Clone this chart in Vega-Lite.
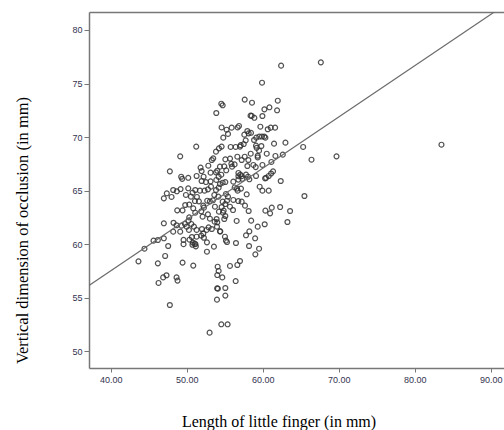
{
 "$schema": "https://vega.github.io/schema/vega-lite/v6.json",
 "width": 415,
 "height": 356,
 "autosize": {"type": "none"},
 "padding": {"left": 89, "top": 12, "right": 0, "bottom": 62},
 "background": "white",
 "config": {"view": {"stroke": null}},
 "layer": [
  {
   "data": {"values": [
    {"finger":62.42,"vdo":76.67},{"finger":67.65,"vdo":76.98},{"finger":59.91,"vdo":75.08},{"finger":57.63,"vdo":73.50},
    {"finger":58.59,"vdo":73.21},{"finger":61.98,"vdo":73.40},{"finger":54.55,"vdo":73.12},{"finger":54.73,"vdo":72.97},
    {"finger":53.89,"vdo":72.25},{"finger":60.88,"vdo":72.78},{"finger":60.22,"vdo":72.59},{"finger":61.89,"vdo":72.50},
    {"finger":58.40,"vdo":72.00},{"finger":58.55,"vdo":71.98},{"finger":58.90,"vdo":71.80},{"finger":59.96,"vdo":71.97},
    {"finger":83.52,"vdo":69.29},{"finger":69.71,"vdo":68.20},{"finger":66.42,"vdo":67.89},{"finger":65.32,"vdo":69.08},
    {"finger":65.49,"vdo":64.50},{"finger":62.99,"vdo":69.48},{"finger":62.64,"vdo":68.36},{"finger":62.37,"vdo":65.90},
    {"finger":62.29,"vdo":63.47},{"finger":63.60,"vdo":63.10},{"finger":63.25,"vdo":62.07},{"finger":51.25,"vdo":69.11},
    {"finger":49.14,"vdo":68.20},{"finger":47.78,"vdo":66.80},{"finger":53.01,"vdo":51.74},{"finger":54.55,"vdo":52.52},
    {"finger":55.38,"vdo":52.52},{"finger":47.78,"vdo":54.32},{"finger":43.65,"vdo":58.40},{"finger":44.44,"vdo":59.58},
    {"finger":45.63,"vdo":60.33},{"finger":46.20,"vdo":60.39},{"finger":46.99,"vdo":61.95},{"finger":46.99,"vdo":64.28},
    {"finger":47.38,"vdo":64.75},{"finger":48.00,"vdo":64.41},{"finger":48.22,"vdo":65.06},{"finger":48.70,"vdo":64.94},
    {"finger":49.19,"vdo":65.15},{"finger":49.27,"vdo":66.30},{"finger":49.40,"vdo":66.10},{"finger":50.20,"vdo":66.20},
    {"finger":48.75,"vdo":63.16},{"finger":48.26,"vdo":62.00},{"finger":49.45,"vdo":63.16},{"finger":49.89,"vdo":64.60},
    {"finger":48.22,"vdo":61.17},{"finger":47.56,"vdo":59.83},{"finger":47.16,"vdo":58.90},{"finger":46.99,"vdo":60.55},
    {"finger":46.20,"vdo":58.21},{"finger":46.29,"vdo":56.38},{"finger":46.90,"vdo":56.90},{"finger":47.34,"vdo":57.10},
    {"finger":48.66,"vdo":56.90},{"finger":48.79,"vdo":56.60},{"finger":49.45,"vdo":58.28},{"finger":50.86,"vdo":58.00},
    {"finger":49.58,"vdo":60.40},{"finger":49.58,"vdo":60.00},{"finger":49.76,"vdo":61.89},{"finger":52.66,"vdo":60.17},
    {"finger":52.66,"vdo":59.30},{"finger":53.58,"vdo":59.77},{"finger":54.07,"vdo":57.90},{"finger":54.20,"vdo":57.50},
    {"finger":54.02,"vdo":57.12},{"finger":54.68,"vdo":56.90},{"finger":54.00,"vdo":55.88},{"finger":54.10,"vdo":55.85},
    {"finger":55.08,"vdo":55.91},{"finger":53.98,"vdo":54.82},{"finger":55.08,"vdo":55.20},{"finger":55.69,"vdo":57.97},
    {"finger":56.44,"vdo":56.56},{"finger":56.66,"vdo":58.06},{"finger":57.01,"vdo":58.43},{"finger":56.48,"vdo":60.11},
    {"finger":55.16,"vdo":60.33},{"finger":55.30,"vdo":60.20},{"finger":55.03,"vdo":60.70},{"finger":54.37,"vdo":61.20},
    {"finger":56.57,"vdo":62.17},{"finger":58.20,"vdo":59.83},{"finger":58.24,"vdo":61.20},{"finger":57.80,"vdo":60.83},
    {"finger":58.48,"vdo":62.20},{"finger":59.00,"vdo":60.55},{"finger":59.03,"vdo":59.05},{"finger":59.52,"vdo":59.58},
    {"finger":59.34,"vdo":61.64},{"finger":60.26,"vdo":61.86},{"finger":60.35,"vdo":63.13},{"finger":60.97,"vdo":62.88},
    {"finger":61.19,"vdo":63.41},{"finger":58.15,"vdo":63.10},{"finger":57.67,"vdo":63.60},{"finger":56.79,"vdo":64.03},
    {"finger":57.23,"vdo":63.97},{"finger":57.89,"vdo":64.66},{"finger":57.14,"vdo":65.19},{"finger":56.62,"vdo":65.19},
    {"finger":59.60,"vdo":65.37},{"finger":59.96,"vdo":65.00},{"finger":60.79,"vdo":65.00},{"finger":60.31,"vdo":66.15},
    {"finger":60.44,"vdo":66.20},{"finger":61.10,"vdo":66.60},{"finger":61.36,"vdo":66.80},{"finger":60.79,"vdo":66.37},
    {"finger":61.14,"vdo":67.68},{"finger":61.67,"vdo":68.24},{"finger":61.49,"vdo":69.39},{"finger":60.53,"vdo":68.45},
    {"finger":60.66,"vdo":70.73},{"finger":61.05,"vdo":70.88},{"finger":61.63,"vdo":70.88},{"finger":59.69,"vdo":70.97},
    {"finger":60.20,"vdo":70.05},{"finger":59.90,"vdo":70.05},{"finger":60.35,"vdo":69.95},{"finger":59.55,"vdo":70.05},
    {"finger":59.15,"vdo":69.95},{"finger":58.46,"vdo":70.40},{"finger":57.98,"vdo":70.57},{"finger":58.15,"vdo":70.35},
    {"finger":57.58,"vdo":70.23},{"finger":56.88,"vdo":71.04},{"finger":56.70,"vdo":70.90},{"finger":55.91,"vdo":70.88},
    {"finger":55.25,"vdo":70.69},{"finger":54.59,"vdo":70.90},{"finger":55.43,"vdo":70.30},{"finger":54.81,"vdo":69.95},
    {"finger":54.59,"vdo":69.11},{"finger":54.24,"vdo":68.95},{"finger":53.85,"vdo":68.64},{"finger":55.78,"vdo":69.08},
    {"finger":56.44,"vdo":69.08},{"finger":57.01,"vdo":69.11},{"finger":57.10,"vdo":69.25},{"finger":57.50,"vdo":69.35},
    {"finger":57.76,"vdo":69.70},{"finger":58.86,"vdo":69.73},{"finger":59.12,"vdo":69.20},{"finger":59.20,"vdo":69.00},
    {"finger":59.82,"vdo":69.17},{"finger":59.52,"vdo":68.73},{"finger":59.34,"vdo":68.26},{"finger":59.34,"vdo":68.10},
    {"finger":58.42,"vdo":68.45},{"finger":58.11,"vdo":67.86},{"finger":57.63,"vdo":68.17},{"finger":56.66,"vdo":68.17},
    {"finger":57.23,"vdo":67.86},{"finger":58.77,"vdo":67.40},{"finger":59.08,"vdo":67.20},{"finger":59.96,"vdo":67.40},
    {"finger":57.98,"vdo":67.30},{"finger":56.80,"vdo":66.65},{"finger":57.05,"vdo":66.50},{"finger":56.80,"vdo":66.35},
    {"finger":57.25,"vdo":66.35},{"finger":57.80,"vdo":66.50},{"finger":58.07,"vdo":66.30},{"finger":58.24,"vdo":66.06},
    {"finger":57.32,"vdo":66.10},{"finger":59.12,"vdo":66.37},{"finger":55.87,"vdo":67.50},{"finger":55.96,"vdo":67.24},
    {"finger":55.08,"vdo":67.92},{"finger":55.70,"vdo":67.99},{"finger":54.94,"vdo":67.27},{"finger":54.37,"vdo":67.24},
    {"finger":54.02,"vdo":66.86},{"finger":53.85,"vdo":66.71},{"finger":54.55,"vdo":66.49},{"finger":54.20,"vdo":66.30},
    {"finger":53.89,"vdo":66.00},{"finger":55.08,"vdo":65.80},{"finger":56.13,"vdo":65.84},{"finger":56.79,"vdo":66.03},
    {"finger":56.31,"vdo":65.30},{"finger":56.70,"vdo":65.00},{"finger":54.73,"vdo":65.74},{"finger":54.37,"vdo":65.62},
    {"finger":54.20,"vdo":65.28},{"finger":53.85,"vdo":65.06},{"finger":53.19,"vdo":65.37},{"finger":53.49,"vdo":68.02},
    {"finger":53.30,"vdo":67.86},{"finger":52.84,"vdo":67.33},{"finger":51.82,"vdo":67.15},{"finger":51.96,"vdo":66.83},
    {"finger":53.14,"vdo":66.68},{"finger":51.96,"vdo":65.90},{"finger":52.53,"vdo":65.80},{"finger":53.14,"vdo":65.87},
    {"finger":51.12,"vdo":65.06},{"finger":51.74,"vdo":65.00},{"finger":52.35,"vdo":65.00},{"finger":52.79,"vdo":65.12},
    {"finger":50.77,"vdo":64.81},{"finger":50.20,"vdo":65.22},{"finger":50.55,"vdo":64.44},{"finger":51.34,"vdo":64.41},
    {"finger":51.60,"vdo":64.00},{"finger":52.18,"vdo":63.60},{"finger":52.26,"vdo":63.41},{"finger":52.70,"vdo":64.06},
    {"finger":53.05,"vdo":64.00},{"finger":53.45,"vdo":64.10},{"finger":53.63,"vdo":64.60},{"finger":54.15,"vdo":64.44},
    {"finger":54.73,"vdo":63.97},{"finger":55.08,"vdo":63.75},{"finger":54.59,"vdo":63.47},{"finger":54.86,"vdo":63.13},
    {"finger":54.77,"vdo":62.94},{"finger":54.24,"vdo":63.04},{"finger":55.69,"vdo":63.50},{"finger":56.09,"vdo":63.19},
    {"finger":55.08,"vdo":62.63},{"finger":54.94,"vdo":62.35},{"finger":53.93,"vdo":62.35},{"finger":54.02,"vdo":62.04},
    {"finger":53.67,"vdo":62.10},{"finger":53.98,"vdo":61.64},{"finger":54.42,"vdo":61.20},{"finger":52.79,"vdo":62.79},
    {"finger":53.05,"vdo":62.38},{"finger":52.09,"vdo":62.57},{"finger":51.91,"vdo":63.07},{"finger":51.12,"vdo":62.94},
    {"finger":50.86,"vdo":63.35},{"finger":50.33,"vdo":63.70},{"finger":49.80,"vdo":63.66},{"finger":50.33,"vdo":62.50},
    {"finger":50.24,"vdo":62.20},{"finger":50.60,"vdo":61.89},{"finger":50.95,"vdo":61.64},{"finger":50.00,"vdo":61.64},
    {"finger":50.29,"vdo":61.33},{"finger":49.32,"vdo":61.73},{"finger":51.30,"vdo":61.33},{"finger":52.00,"vdo":61.42},
    {"finger":52.18,"vdo":61.00},{"finger":52.62,"vdo":61.33},{"finger":52.88,"vdo":61.57},{"finger":53.30,"vdo":61.42},
    {"finger":51.91,"vdo":60.80},{"finger":51.30,"vdo":60.70},{"finger":50.68,"vdo":60.67},{"finger":50.37,"vdo":60.42},
    {"finger":50.80,"vdo":60.15},{"finger":51.05,"vdo":60.05},{"finger":50.75,"vdo":59.95},{"finger":51.15,"vdo":60.00},
    {"finger":51.20,"vdo":59.80},{"finger":52.26,"vdo":60.60},{"finger":49.14,"vdo":61.17},{"finger":48.66,"vdo":61.77},
    {"finger":55.43,"vdo":64.44},{"finger":55.16,"vdo":64.69},{"finger":55.30,"vdo":64.06},{"finger":55.20,"vdo":66.90},
    {"finger":56.30,"vdo":67.45},{"finger":52.22,"vdo":66.30},{"finger":51.30,"vdo":66.37},{"finger":51.08,"vdo":64.03},
    {"finger":53.71,"vdo":63.50},{"finger":56.13,"vdo":64.13}
   ]},
   "mark": {"type": "point", "shape": "circle", "filled": false, "size": 24, "stroke": "#333333", "strokeWidth": 1.2, "opacity": 0.85},
   "encoding": {
    "x": {"field": "finger", "type": "quantitative",
     "scale": {"domain": [37.14, 91.75], "nice": false, "zero": false},
     "axis": {"orient": "bottom", "values": [40, 50, 60, 70, 80, 90], "format": ".2f", "grid": false,
      "labelFont": "Liberation Sans", "labelFontSize": 9, "labelColor": "#333350", "labelPadding": 3,
      "tickSize": 4, "tickColor": "#777777", "domainColor": "#777777", "domainWidth": 1.5,
      "title": "Length of little finger (in mm)", "titleFont": "Liberation Serif", "titleFontSize": 16,
      "titleFontWeight": "normal", "titleColor": "#000000", "titleX": 189.5, "titleY": 58,
      "titleBaseline": "alphabetic", "titleAlign": "center", "titleAnchor": null}},
    "y": {"field": "vdo", "type": "quantitative",
     "scale": {"domain": [48.44, 81.68], "nice": false, "zero": false},
     "axis": {"values": [50, 55, 60, 65, 70, 75, 80], "format": "d", "grid": false,
      "labelFont": "Liberation Sans", "labelFontSize": 9, "labelColor": "#333350", "labelPadding": 2,
      "tickSize": 5, "tickColor": "#777777", "domainColor": "#777777", "domainWidth": 1.5,
      "title": "Vertical dimension of occlusion (in mm)", "titleFont": "Liberation Serif", "titleFontSize": 16.5,
      "titleFontWeight": "normal", "titleColor": "#000000", "titleX": -67, "titleY": 218,
      "titleBaseline": "middle", "titleAlign": "center", "titleAngle": 270}}
   }
  },
  {
   "data": {"values": [{"finger": 37.14, "vdo": 56.15}, {"finger": 91.75, "vdo": 82.29}]},
   "mark": {"type": "line", "clip": true, "color": "#6b6b6b", "strokeWidth": 1.2},
   "encoding": {
    "x": {"field": "finger", "type": "quantitative",
     "axis": {"orient": "top", "labels": false, "ticks": false, "title": null, "grid": false, "domainColor": "#777777", "domainWidth": 1.5}},
    "y": {"field": "vdo", "type": "quantitative"}
   }
  }
 ],
 "resolve": {"axis": {"x": "independent"}}
}
